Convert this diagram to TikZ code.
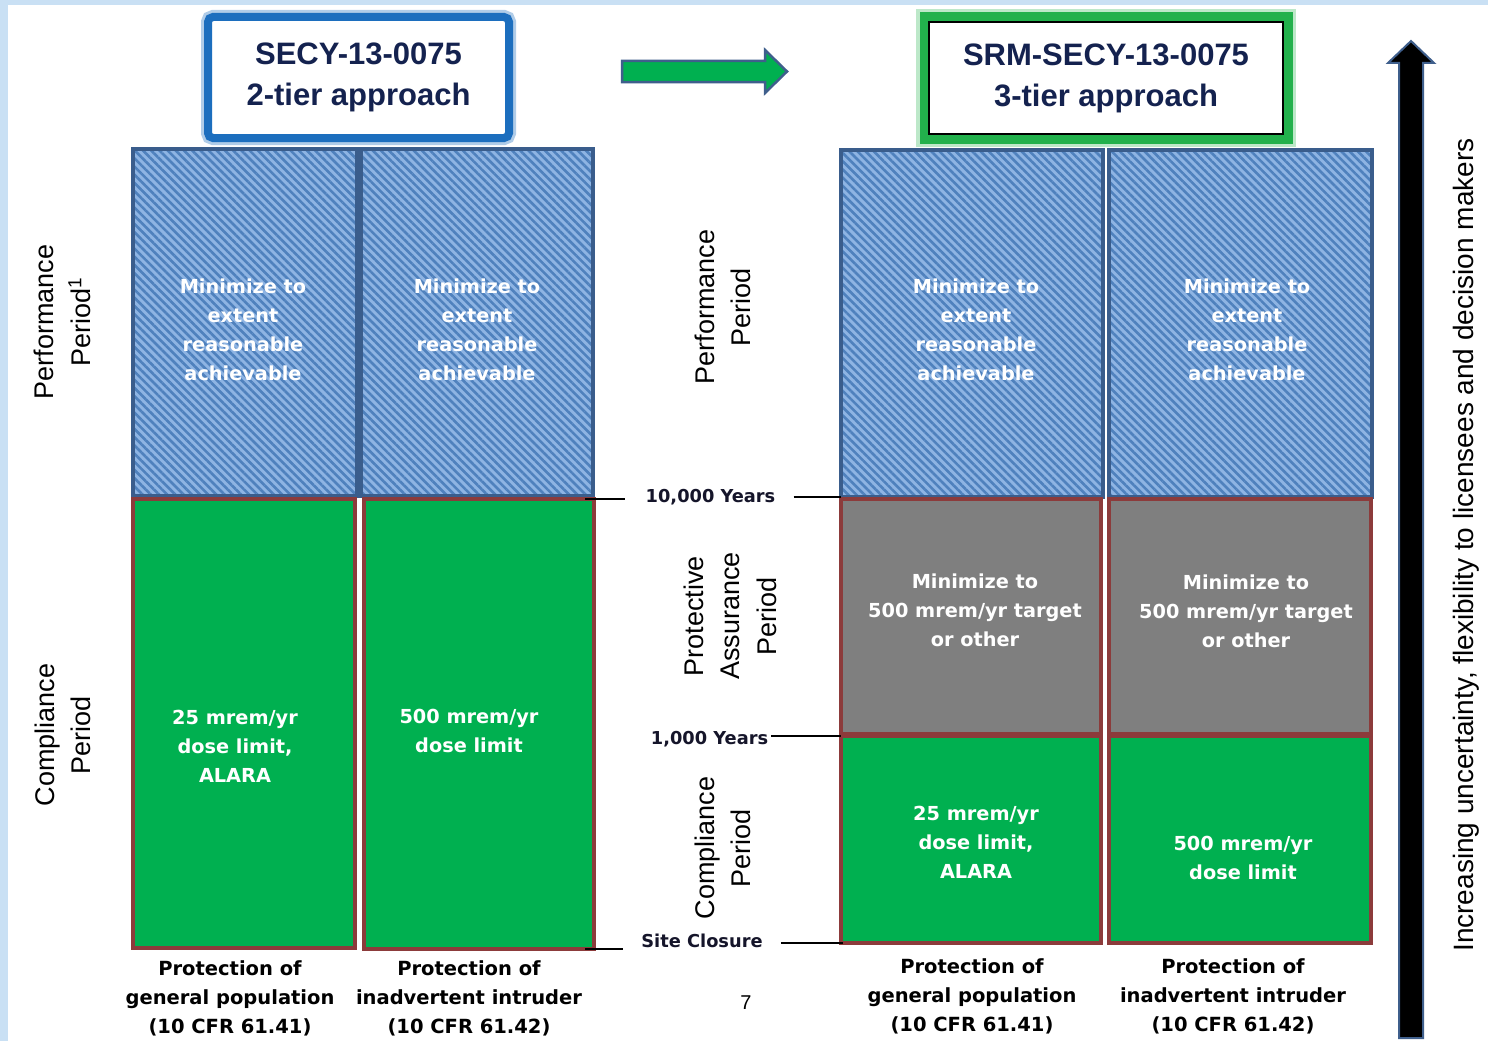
\documentclass[tikz,border=0pt]{standalone}
\usepackage{fontspec}
\setmainfont{Liberation Sans}
\newfontfamily\boxfont{DejaVu Sans}
\usetikzlibrary{patterns.meta}

\definecolor{hatchbg}{HTML}{8EB4E3}
\definecolor{hatchfg}{HTML}{4F81BD}
\definecolor{hatchedge}{HTML}{3A5D8C}
\definecolor{tiergreen}{HTML}{00B050}
\definecolor{tierbrown}{HTML}{8C3B3B}
\definecolor{tiergray}{HTML}{7F7F7F}
\definecolor{titlenavy}{HTML}{14224F}
\definecolor{glowblue}{HTML}{1C6EBE}
\definecolor{glowgreen}{HTML}{22B14C}
\definecolor{arrowedge}{HTML}{3F5F8C}
\definecolor{pagetint}{HTML}{C9E0F4}
\definecolor{labelink}{HTML}{15152A}

\begin{document}
\begin{tikzpicture}[x=1pt,y=-1pt,
  tierbox/.style={inner sep=0pt, outer sep=0pt, line width=4pt},
  hatchbox/.style={tierbox, draw=hatchedge, preaction={fill=hatchbg},
    pattern={Lines[angle=-45,distance=5.8pt,line width=2.6pt]}, pattern color=hatchfg},
  greenbox/.style={tierbox, draw=tierbrown, fill=tiergreen},
  graybox/.style={tierbox, draw=tierbrown, fill=tiergray},
  boxtext/.style={text=white, align=center, font=\boxfont\bfseries\fontsize{19.3}{29}\selectfont},
  basetext/.style={text=black, align=center, font=\boxfont\bfseries\fontsize{19.5}{29}\selectfont},
  yeartext/.style={text=labelink, inner sep=3pt, font=\boxfont\bfseries\fontsize{17.8}{22}\selectfont},
  periodtext/.style={rotate=90, align=center, text=black, font=\fontsize{27}{36.5}\selectfont},
  titletext/.style={align=center, text=titlenavy, font=\bfseries\fontsize{31}{41}\selectfont},
  tick/.style={draw=black, line width=2pt}
]
\useasboundingbox (0,0) rectangle (1488,1041);
% page background
\fill[pagetint] (0,0) rectangle (1488,1041);
\fill[white] (8,5) rectangle (1488,1041);

% title boxes
\node[titletext, fill=white, draw=glowblue, line width=8pt, rounded corners=5pt,
      preaction={draw=glowblue!35, line width=14pt, rounded corners=7pt},
      minimum width=301pt, minimum height=121pt, inner sep=0pt] (t1) at (358.5,77.5)
      {SECY-13-0075\\2-tier approach};
\node[titletext, fill=white, draw=black, line width=1.5pt,
      preaction={draw=glowgreen!30, line width=26pt, rounded corners=10pt},
      preaction={draw=glowgreen, line width=19pt, rounded corners=7pt},
      minimum width=354pt, minimum height=112pt, inner sep=0pt] (t2) at (1106,78)
      {SRM-SECY-13-0075\\3-tier approach};

% transition arrow between the two approaches
\draw[fill=tiergreen, draw=arrowedge, line width=2.5pt, line join=miter]
  (622,61) -- (765,61) -- (765,50) -- (787,71.5) -- (765,93) -- (765,82) -- (622,82) -- cycle;

% two-tier columns
\node[hatchbox, minimum width=224pt, minimum height=347pt] (h1) at (245,322.5) {};
\node[hatchbox, minimum width=232pt, minimum height=347pt] (h2) at (477,322.5) {};
\node[greenbox, minimum width=222pt, minimum height=449pt] (g1) at (244,723.5) {};
\node[greenbox, minimum width=230pt, minimum height=450pt] (g2) at (479,724) {};

% three-tier columns
\node[hatchbox, minimum width=262pt, minimum height=347pt] (h3) at (972,323.5) {};
\node[hatchbox, minimum width=263pt, minimum height=347pt] (h4) at (1240.5,323.5) {};
\node[graybox, minimum width=260pt, minimum height=235pt] (r3) at (971,616.5) {};
\node[graybox, minimum width=262pt, minimum height=235pt] (r4) at (1240,616.5) {};
\node[greenbox, minimum width=260pt, minimum height=207pt] (g3) at (971,839.5) {};
\node[greenbox, minimum width=262pt, minimum height=207pt] (g4) at (1240,839.5) {};

% texts inside the columns
\node[boxtext] (h1t) at (243,330) {Minimize to\\extent\\reasonable\\achievable};
\node[boxtext] (h2t) at (477,330) {Minimize to\\extent\\reasonable\\achievable};
\node[boxtext] (h3t) at (976,330) {Minimize to\\extent\\reasonable\\achievable};
\node[boxtext] (h4t) at (1247,330) {Minimize to\\extent\\reasonable\\achievable};
\node[boxtext] (r3t) at (975,610) {Minimize to\\500 mrem/yr target\\or other};
\node[boxtext] (r4t) at (1246,611) {Minimize to\\500 mrem/yr target\\or other};
\node[boxtext] (g1t) at (235,746) {25 mrem/yr\\dose limit,\\ALARA};
\node[boxtext] (g2t) at (469,731) {500 mrem/yr\\dose limit};
\node[boxtext] (g3t) at (976,842) {25 mrem/yr\\dose limit,\\ALARA};
\node[boxtext] (g4t) at (1243,857.5) {500 mrem/yr\\dose limit};

% column captions
\node[basetext] (c1) at (230,998) {Protection of\\general population\\(10 CFR 61.41)};
\node[basetext] (c2) at (469,998) {Protection of\\inadvertent intruder\\(10 CFR 61.42)};
\node[basetext] (c3) at (972,996.5) {Protection of\\general population\\(10 CFR 61.41)};
\node[basetext] (c4) at (1233,996.5) {Protection of\\inadvertent intruder\\(10 CFR 61.42)};

% period names
\node[periodtext] (p1) at (62.5,322) {Performance\\Period\textsuperscript{1}};
\node[periodtext] (p2) at (63,735) {Compliance\\Period};
\node[periodtext] (p3) at (723,307) {Performance\\Period};
\node[periodtext] (p4) at (730,616) {Protective\\Assurance\\Period};
\node[periodtext] (p5) at (723,848) {Compliance\\Period};

% time marks and their ticks
\node[yeartext] (y10) at (710.5,497) {10,000 Years};
\node[yeartext] (y1) at (709.5,739) {1,000 Years};
\node[yeartext] (y0) at (702,941) {Site Closure};
\draw[tick] ([xshift=-9pt]g2.north east) -- ([xshift=-18pt]y10.west |- g2.north east);
\draw[tick] ([xshift=15pt]y10.east) -- (h3.south west);
\draw[tick] (y1.east |- g3.north west) -- (g3.north west);
\draw[tick] ([xshift=-9pt]g2.south east) -- ([xshift=-15pt]y0.west |- g2.south east);
\draw[tick] ([xshift=15pt]y0.east |- g3.south west) -- ([xshift=2pt]g3.south west);

\node[font=\fontsize{20}{24}\selectfont] (pg) at (746,1003) {7};

% uncertainty arrow
\draw[fill=black, draw=arrowedge, line width=2pt, line join=miter]
  (1411,41) -- (1434,63) -- (1423,63) -- (1423,1038) -- (1399,1038) -- (1399,63) -- (1388,63) -- cycle;
\node[rotate=90, font=\fontsize{28}{32}\selectfont] (unc) at (1466,545)
  {Increasing uncertainty, flexibility to licensees and decision makers};
\end{tikzpicture}
\end{document}
